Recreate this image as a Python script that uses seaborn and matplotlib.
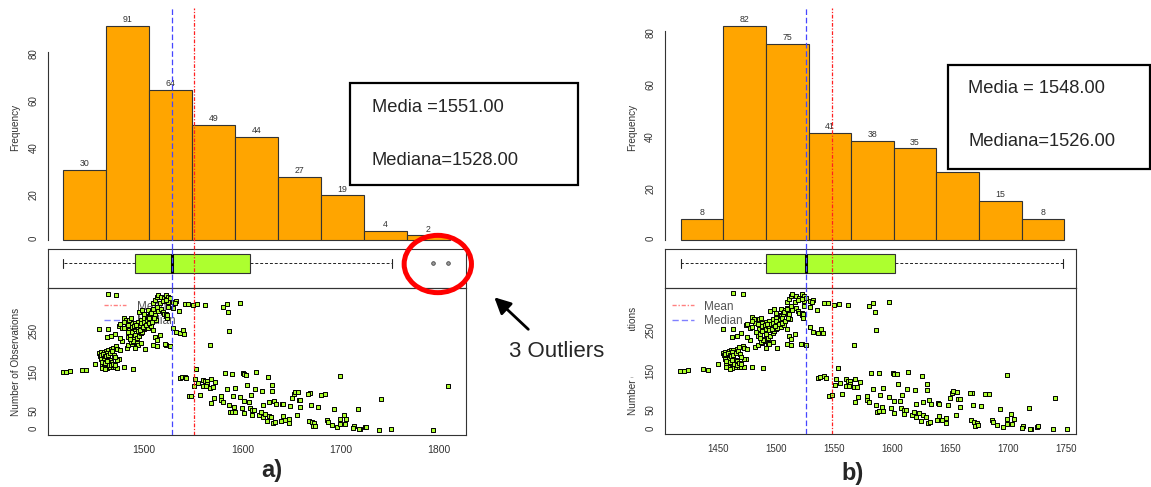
import matplotlib
matplotlib.use("Agg")
import matplotlib.pyplot as plt
from matplotlib.patches import Rectangle, Ellipse, FancyArrowPatch
from matplotlib.lines import Line2D
import seaborn as sns

# ---------------------------------------------------------------- data
# observed value and observation number of every sample
obs_value = [
    1463, 1471, 1417, 1420, 1424, 1437, 1441, 1450, 1454, 1456, 1459, 1461, 1463, 1466,
    1468, 1471, 1472, 1475, 1455, 1458, 1456, 1459, 1462, 1463, 1465, 1466, 1463, 1458,
    1461, 1457, 1459, 1462, 1465, 1468, 1470, 1472, 1474, 1472, 1479, 1489, 1482, 1477,
    1475, 1470, 1466, 1462, 1463, 1454, 1474, 1477, 1479, 1485, 1488, 1491, 1494, 1497,
    1500, 1503, 1506, 1507, 1509, 1511, 1513, 1509, 1511, 1513, 1514, 1517, 1520, 1523,
    1516, 1519, 1522, 1524, 1484, 1486, 1488, 1491, 1493, 1495, 1497, 1500, 1503, 1504,
    1506, 1509, 1511, 1514, 1517, 1519, 1520, 1522, 1523, 1490, 1491, 1493, 1494, 1491,
    1488, 1491, 1493, 1495, 1497, 1498, 1500, 1501, 1504, 1507, 1509, 1511, 1513, 1516,
    1513, 1509, 1501, 1497, 1522, 1479, 1481, 1482, 1475, 1479, 1484, 1485, 1487, 1495,
    1498, 1500, 1504, 1507, 1509, 1511, 1505, 1512,
    1456, 1458, 1460, 1462, 1457, 1460, 1462, 1464, 1466, 1468, 1470, 1461, 1463, 1465,
    1467, 1469, 1470, 1457, 1460, 1484, 1487, 1489, 1486, 1483, 1488, 1490, 1492, 1494,
    1496, 1499, 1502, 1505, 1508, 1510,
    1522, 1524, 1522, 1526, 1529, 1532, 1531, 1524, 1529, 1535, 1522, 1523, 1541, 1545,
    1550, 1554, 1562, 1580, 1584, 1585, 1597, 1529, 1532, 1536, 1539, 1540, 1586, 1521,
    1526, 1567, 1553, 1536, 1538, 1541, 1543, 1552, 1555, 1551, 1560, 1562, 1564, 1568,
    1564, 1560, 1563, 1567, 1570, 1572, 1546, 1548, 1557, 1568, 1571, 1578, 1578, 1580,
    1582, 1589, 1584, 1592, 1590, 1586, 1591, 1587, 1589, 1592, 1597, 1599, 1601, 1602,
    1604, 1605, 1609, 1602, 1607, 1608, 1610, 1612, 1613, 1614, 1620, 1621, 1626, 1627,
    1630, 1630, 1632, 1634, 1610, 1602, 1617, 1619, 1621, 1623, 1625, 1627, 1629, 1631,
    1633, 1640, 1639,
    1699, 1741, 1641, 1648, 1650, 1652, 1653, 1656, 1657, 1659, 1659, 1669, 1667, 1670,
    1677, 1680, 1684, 1693, 1655, 1641, 1643, 1647, 1639, 1647, 1668, 1671, 1673, 1672,
    1674, 1686, 1687, 1691, 1696, 1699, 1699, 1703, 1705, 1704, 1713, 1712, 1718, 1720,
    1719, 1725, 1726, 1739, 1751,
]
obs_index = [
    329, 328, 140, 140, 143, 146, 144, 159, 185, 188, 189, 191, 193, 195,
    199, 202, 197, 194, 179, 176, 171, 173, 171, 176, 168, 165, 161, 160,
    155, 157, 152, 149, 151, 152, 151, 150, 171, 169, 151, 148, 199, 216,
    223, 232, 227, 224, 244, 244, 252, 246, 248, 242, 258, 260, 262, 266,
    270, 276, 281, 289, 293, 290, 298, 308, 315, 323, 327, 323, 319, 316,
    308, 313, 323, 311, 226, 231, 238, 244, 250, 254, 258, 262, 266, 274,
    278, 282, 286, 289, 294, 286, 282, 276, 270, 219, 214, 210, 206, 198,
    208, 230, 222, 227, 234, 238, 244, 246, 248, 252, 242, 226, 218, 230,
    203, 206, 196, 211, 206, 272, 266, 258, 256, 262, 254, 266, 270, 286,
    290, 282, 290, 284, 292, 278, 270, 266,
    182, 184, 180, 186, 165, 163, 167, 158, 156, 160, 158, 178, 181, 185,
    190, 182, 176, 150, 147, 205, 212, 216, 220, 236, 250, 252, 255, 240,
    243, 250, 255, 258, 262, 270,
    327, 323, 315, 319, 310, 313, 308, 298, 296, 289, 282, 278, 305, 305,
    302, 304, 302, 298, 306, 285, 307, 248, 236, 234, 242, 232, 240, 207,
    204, 205, 148, 125, 127, 129, 125, 123, 113, 107, 121, 117, 117, 123,
    110, 106, 105, 102, 103, 115, 81, 82, 85, 65, 78, 81, 71, 66,
    137, 136, 98, 100, 82, 60, 55, 42, 44, 44, 79, 52, 137, 134,
    133, 109, 83, 69, 68, 52, 48, 47, 98, 139, 94, 61, 129, 67,
    109, 94, 70, 62, 36, 40, 35, 42, 31, 39, 20, 34, 30, 16,
    18, 63, 22,
    131, 75, 62, 58, 77, 87, 92, 91, 73, 73, 55, 89, 87, 60,
    56, 85, 86, 50, 35, 32, 23, 27, 22, 15, 22, 18, 15, 8,
    10, 23, 18, 11, 6, 26, 14, 36, 26, 14, 8, 4, 51, 2,
    2, 6, 7, 0, 2,
]
# the two extreme samples, present only in panel a)
outlier_value = [1794, 1809]
outlier_index = [0, 105]

# histogram of panel a) (all samples) and b) (outliers removed)
hist_edges_a = [1417.4, 1461.1, 1504.8, 1548.6, 1592.3, 1636.0, 1679.7, 1723.4, 1767.1, 1810.8]
hist_counts_a = [30, 91, 64, 49, 44, 27, 19, 4, 2]
hist_edges_b = [1417.5, 1454.3, 1491.1, 1527.9, 1564.7, 1601.5, 1638.3, 1675.1, 1711.9, 1748.7]
hist_counts_b = [8, 82, 75, 41, 38, 35, 26, 15, 8]

# five-number summaries for the box plots
box_a = dict(whislo=1417, q1=1491, med=1528, q3=1608, whishi=1752, fliers=outlier_value)
box_b = dict(whislo=1418, q1=1491, med=1526, q3=1603, whishi=1748, fliers=[])

mean_a, median_a = 1551, 1528
mean_b, median_b = 1548, 1526

xticks_a = [1500, 1600, 1700, 1800]
xticks_b = [1450, 1500, 1550, 1600, 1650, 1700, 1750]
yticks_hist = [0, 20, 40, 60, 80]
yticks_obs = [0, 50, 100, 150, 200, 250, 300]
ylabels_obs = ["0", "50", "", "150", "", "250", ""]

# ---------------------------------------------------------------- style
sns.set_style("white")
plt.rcParams["font.family"] = ["Liberation Sans", "DejaVu Sans"]

ORANGE = "#FFA500"
GREEN = "#ADFF2F"
RED = "#FF2020"
BLUE = "#4646FF"
INK = "#222222"
GREY_TXT = "#333333"
MEAN_LS = (0, (3, 1.3, 1, 1.3))
MEDIAN_LS = (0, (4.5, 2.2))

W, H = 1151, 487
fig = plt.figure(figsize=(W / 100, H / 100), dpi=100)


def rect(x0, y0, x1, y1):
    """pixel box (top-left origin) -> figure fraction [l, b, w, h]"""
    return [x0 / W, 1 - y1 / H, (x1 - x0) / W, (y1 - y0) / H]


def fx(x):
    return x / W


def fy(y):
    return 1 - y / H


def panel(left, right, xlim, hist_top, hist_ylim, edges, counts, box, mean, median,
          xs, ys, scat_bottom, scat_ylim, xticks, leg_left, title_x, xtick_size):
    ax_h = fig.add_axes(rect(left, hist_top, right, 248.6))
    ax_b = fig.add_axes(rect(left, 248.6, right, 288))
    ax_s = fig.add_axes(rect(left, 288, right, scat_bottom))
    for ax in (ax_h, ax_b, ax_s):
        ax.set_facecolor("none")
    title_ax_x = (title_x - left) / (right - left)

    # --- histogram
    centers = [(a + b) / 2 for a, b in zip(edges[:-1], edges[1:])]
    sns.histplot(x=centers, weights=counts, bins=edges, ax=ax_h, color=ORANGE,
                 edgecolor="#333333", linewidth=0.8, alpha=1)
    for c, n in zip(centers, counts):
        ax_h.annotate(str(n), (c, n), xytext=(0, 1.2), textcoords="offset points",
                      ha="center", va="bottom", fontsize=6.3, color=GREY_TXT)
    ax_h.set_xlim(xlim)
    ax_h.set_ylim(hist_ylim)
    for s in ("top", "right", "bottom"):
        ax_h.spines[s].set_visible(False)
    ax_h.spines["left"].set_bounds(0, 80)
    ax_h.spines["left"].set_color("#333333")
    ax_h.spines["left"].set_linewidth(0.8)
    ax_h.set_xticks([])
    ax_h.set_yticks(yticks_hist)
    ax_h.tick_params(axis="y", direction="out", length=3.6, width=0.7, labelsize=7,
                     labelrotation=90, pad=3.5, colors=GREY_TXT)
    ax_h.set_xlabel("")
    ax_h.set_ylabel("Frequency", fontsize=7.2, color=GREY_TXT)
    ax_h.yaxis.set_label_coords(title_ax_x, (248.6 - 127.5) / (248.6 - hist_top))
    # mean / median guides run from above the bars down through every row
    ext = 1 + (hist_top - 8) / (248.6 - hist_top)
    ax_h.axvline(mean, ymin=0, ymax=ext, clip_on=False, color=RED, ls=MEAN_LS, lw=0.9, zorder=4)
    ax_h.axvline(median, ymin=0, ymax=ext, clip_on=False, color=BLUE, ls=MEDIAN_LS, lw=0.9, zorder=4)

    # --- box plot
    ax_b.bxp([box], positions=[0], widths=[0.5], orientation="horizontal",
             patch_artist=True, manage_ticks=False, showfliers=True,
             boxprops=dict(facecolor=GREEN, edgecolor="#333333", linewidth=0.8),
             whiskerprops=dict(linestyle=(0, (3, 2)), linewidth=0.7, color=INK),
             capprops=dict(linewidth=0.8, color=INK),
             medianprops=dict(color="black", linewidth=2.2),
             flierprops=dict(marker="o", markersize=2.6, markerfacecolor="#9a9a9a",
                             markeredgecolor="#444444", markeredgewidth=0.6))
    ax_b.set_xlim(xlim)
    ax_b.set_ylim(-0.645, 0.392)
    ax_b.set_xticks([])
    ax_b.set_yticks([])
    ax_b.axvline(mean, color=RED, ls=MEAN_LS, lw=0.9, zorder=4)
    ax_b.axvline(median, color=BLUE, ls=MEDIAN_LS, lw=0.9, zorder=4)

    # --- observations
    sns.scatterplot(x=xs, y=ys, ax=ax_s, marker="s", s=12, color=GREEN,
                    edgecolor="black", linewidth=0.7, zorder=3, legend=False)
    ax_s.axvline(mean, color=RED, ls=MEAN_LS, lw=0.9, zorder=4)
    ax_s.axvline(median, color=BLUE, ls=MEDIAN_LS, lw=0.9, zorder=4)
    ax_s.set_xlim(xlim)
    ax_s.set_ylim(scat_ylim)
    ax_s.set_xticks(xticks)
    ax_s.set_xticklabels([str(t) for t in xticks])
    ax_s.set_yticks(yticks_obs)
    ax_s.set_yticklabels(ylabels_obs)
    ax_s.tick_params(axis="x", direction="out", length=3.6, width=0.7, labelsize=xtick_size,
                     pad=3.5, colors=GREY_TXT)
    ax_s.tick_params(axis="y", direction="out", length=3.6, width=0.7, labelsize=7,
                     labelrotation=90, pad=3.5, colors=GREY_TXT)
    ax_s.set_xlabel("")
    ax_s.set_ylabel("Number of Observations", fontsize=7.2, color=GREY_TXT)
    ax_s.yaxis.set_label_coords(title_ax_x, 0.5)

    handles = [Line2D([], [], color="#FF8080", ls=MEAN_LS, lw=1),
               Line2D([], [], color="#8080FF", ls=MEDIAN_LS, lw=1)]
    leg = ax_s.legend(handles, ["Mean", "Median"], loc="upper left",
                      bbox_to_anchor=((leg_left - left) / (right - left),
                                      (scat_bottom - 300.5) / (scat_bottom - 288)),
                      frameon=False, fontsize=8.5, handlelength=1.85, handletextpad=0.9,
                      labelspacing=0.22, borderpad=0, borderaxespad=0, labelcolor="#555555")
    leg.set_zorder(1)

    for ax in (ax_b, ax_s):
        for s in ax.spines.values():
            s.set_visible(True)
            s.set_color("#333333")
            s.set_linewidth(0.8)


panel(48.3, 466.0, (1402.4, 1827.4), 17.6, (-3.64, 94.64),
      hist_edges_a, hist_counts_a, box_a, mean_a, median_a,
      obs_value + outlier_value, obs_index + outlier_index,
      435.0, (-13, 344), xticks_a, 104.3, 20.5, 7.5)
panel(665.0, 1075.7, (1404.0, 1758.6), 17.0, (-3.28, 85.28),
      hist_edges_b, hist_counts_b, box_b, mean_b, median_b,
      obs_value, obs_index,
      434.3, (-12, 342), xticks_b, 671.7, 637.5, 7)

# white patch hiding the middle of the right-hand axis title
fig.add_artist(Rectangle((fx(618), fy(377)), 25 / W, 46 / H, transform=fig.transFigure,
                         facecolor="white", edgecolor="none", zorder=5))

# summary boxes
fig.add_artist(Rectangle((fx(350), fy(185)), 228.3 / W, 101.7 / H, transform=fig.transFigure,
                         facecolor="white", edgecolor="black", linewidth=1.6, zorder=7))
fig.text(fx(371.7), fy(111.7), "Media =1551.00", fontsize=13.2, va="baseline", zorder=8)
fig.text(fx(371.7), fy(165.0), "Mediana=1528.00", fontsize=13.2, va="baseline", zorder=8)

fig.add_artist(Rectangle((fx(948.3), fy(169.3)), 201.5 / W, 104.3 / H, transform=fig.transFigure,
                         facecolor="white", edgecolor="black", linewidth=1.6, zorder=7))
fig.text(fx(968.3), fy(93.3), "Media = 1548.00", fontsize=13.2, va="baseline", zorder=8)
fig.text(fx(968.3), fy(145.7), "Mediana=1526.00", fontsize=13.2, va="baseline", zorder=8)

# outlier highlight
fig.add_artist(Ellipse((fx(437.8), fy(264)), 67.3 / W, 57.3 / H, transform=fig.transFigure,
                       fill=False, edgecolor="#FF0000", linewidth=3.6, zorder=9))
fig.add_artist(FancyArrowPatch((fx(528.3), fy(329.3)), (fx(494.3), fy(297.3)),
                               transform=fig.transFigure,
                               arrowstyle="-|>,head_length=0.7,head_width=0.35",
                               mutation_scale=14, linewidth=2, color="black",
                               shrinkA=0, shrinkB=0, zorder=9))
fig.text(fx(509), fy(351.7), "3 Outliers", fontsize=16, va="center", ha="left", zorder=9)

# panel tags
fig.text(fx(261.7), fy(477), "a)", fontsize=17, fontweight="bold", va="baseline", ha="left")
fig.text(fx(841.7), fy(480), "b)", fontsize=17, fontweight="bold", va="baseline", ha="left")

fig.savefig("out.png", dpi=100)
